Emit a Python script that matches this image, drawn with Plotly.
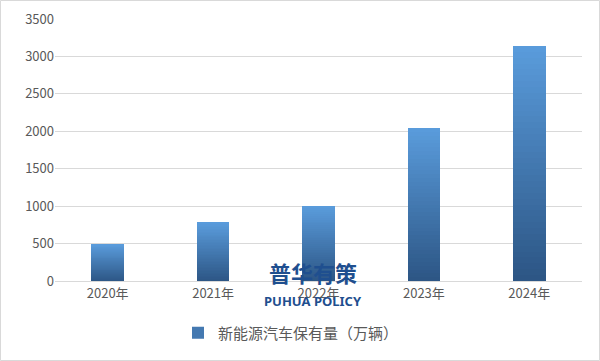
import plotly.graph_objects as go
import numpy as np

categories = ["2020年", "2021年", "2022年", "2023年", "2024年"]
values = [492, 784, 1001, 2041, 3140]
series_name = "新能源汽车保有量（万辆）"
y_ticks = [0, 500, 1000, 1500, 2000, 2500, 3000, 3500]

N = 40
bottom = np.array([0x2c, 0x55, 0x84])
top = np.array([0x5a, 0x9c, 0xdc])

fig = go.Figure()
vals = np.array(values, dtype=float)
for i in range(N):
    t = (i + 0.5) / N
    c = bottom + (top - bottom) * t
    col = "rgb(%d,%d,%d)" % tuple(c.round().astype(int))
    fig.add_trace(go.Bar(
        x=categories, y=vals / N, marker=dict(color=col, line=dict(width=0)),
        name=series_name, showlegend=(i == N // 2), hoverinfo="skip",
    ))

W, H = 600, 361
ml, mr, mt, mb = 55, 18, 19, 80
pw, ph = W - ml - mr, H - mt - mb

fig.update_layout(
    width=W, height=H, barmode="stack", bargap=0.69,
    margin=dict(l=ml, r=mr, t=mt, b=mb, autoexpand=False),
    paper_bgcolor="white", plot_bgcolor="white",
    font=dict(family="Microsoft YaHei, Noto Sans CJK SC, sans-serif", size=13, color="#595959"),
    yaxis=dict(range=[0, 3500], tickvals=y_ticks, showgrid=True, gridcolor="#d9d9d9",
               gridwidth=1, zeroline=False, showline=False, ticks="", ticklen=0,
               tickfont=dict(size=13, color="#595959")),
    xaxis=dict(showline=True, linecolor="#d9d9d9", ticks="", showgrid=False,
               tickfont=dict(size=13, color="#595959")),
    legend=dict(orientation="h", x=(178 - ml) / pw, xanchor="left", y=-52 / ph, yanchor="middle",
                font=dict(size=15, color="#595959"), itemwidth=30),
    showlegend=True,
)
fig.add_shape(type="rect", xref="paper", yref="paper",
              x0=-(ml - 0.5) / pw, x1=1 + (mr - 0.5) / pw,
              y0=-(mb - 0.5) / ph, y1=1 + (mt - 0.5) / ph,
              line=dict(color="#d9d9d9", width=1), fillcolor="rgba(0,0,0,0)", layer="above")
fig.add_annotation(text="<b>普华有策</b>", xref="paper", yref="paper",
                   x=(313 - ml) / pw, y=(H - mb - 290) / ph, showarrow=False,
                   font=dict(size=22, color="#1f4f8f", family="Noto Sans CJK SC"))
fig.add_annotation(text="<b>PUHUA POLICY</b>", xref="paper", yref="paper",
                   x=(313 - ml) / pw, y=(H - mb - 312) / ph, showarrow=False,
                   font=dict(size=13, color="#1f4f8f", family="Noto Sans, sans-serif"))

fig.write_html("out.html")
